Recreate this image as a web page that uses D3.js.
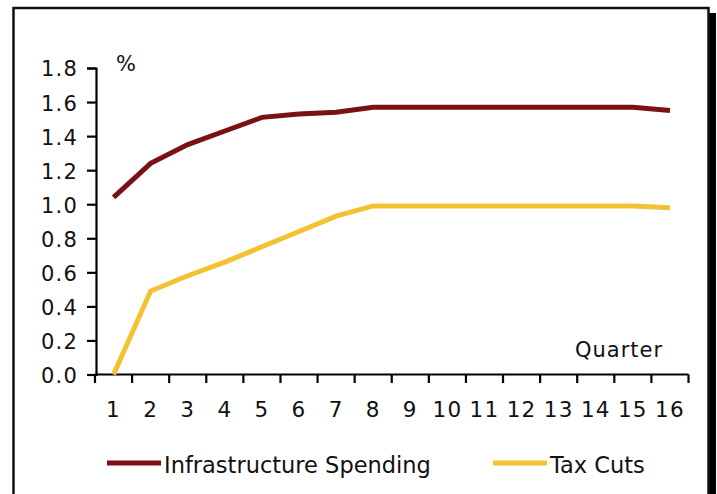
<!DOCTYPE html>
<html>
<head>
<meta charset="utf-8">
<script src="https://cdn.jsdelivr.net/npm/d3@7"></script>
<style>
  html, body { margin: 0; padding: 0; background: #fff; }
  svg { display: block; }
  text { font-family: "DejaVu Sans", Verdana, sans-serif; fill: #111; }
</style>
</head>
<body>
<svg id="chart" width="717" height="494"></svg>
<script>
// ---- data ----
const quarters = ["1","2","3","4","5","6","7","8","9","10","11","12","13","14","15","16"];
const infrastructure = [1.04, 1.24, 1.35, 1.43, 1.51, 1.53, 1.54, 1.57, 1.57, 1.57, 1.57, 1.57, 1.57, 1.57, 1.57, 1.55];
const taxCuts = [0.00, 0.49, 0.58, 0.66, 0.75, 0.84, 0.93, 0.99, 0.99, 0.99, 0.99, 0.99, 0.99, 0.99, 0.99, 0.98];
const yTicks = [0, 0.2, 0.4, 0.6, 0.8, 1.0, 1.2, 1.4, 1.6, 1.8];
const seriesNames = ["Infrastructure Spending", "Tax Cuts"];
const seriesColors = ["#7a1114", "#f3c232"];
const yUnit = "%";
const xTitle = "Quarter";

// ---- drawing ----
const svg = d3.select("#chart");

// frame with shadow
svg.append("rect").attr("x", 709).attr("y", 13).attr("width", 7).attr("height", 490).attr("fill", "#000");
svg.append("rect").attr("x", 13.5).attr("y", 8).attr("width", 695).attr("height", 500)
  .attr("fill", "#fff").attr("stroke", "#111").attr("stroke-width", 2.5);

const x = d3.scaleBand().domain(quarters).range([95, 688.5]).paddingInner(0).paddingOuter(0);
const y = d3.scaleLinear().domain([0, 1.8]).range([374.5, 68]);
const cx = q => x(q) + x.bandwidth() / 2;

// y axis
const yAxis = svg.append("g").attr("transform", "translate(96,0)")
  .call(d3.axisLeft(y).tickValues(yTicks).tickFormat(d3.format(".1f")).tickSize(9).tickPadding(9));
yAxis.select(".domain").attr("stroke", "#000").attr("stroke-width", 2.2);
yAxis.selectAll(".tick line").attr("stroke", "#000").attr("stroke-width", 2.2);
yAxis.selectAll(".tick text").attr("font-size", 21).attr("letter-spacing", "1.2px")
  .attr("font-family", "DejaVu Sans").attr("fill", "#111").attr("dy", "0.38em");

// x axis labels
const xAxis = svg.append("g").attr("transform", "translate(0,374.5)")
  .call(d3.axisBottom(x).tickSize(0).tickPadding(27));
xAxis.select(".domain").remove();
xAxis.selectAll(".tick text").attr("font-size", 21.5).attr("letter-spacing", "1.2px")
  .attr("font-family", "DejaVu Sans").attr("fill", "#111");

// x axis line + boundary ticks
svg.append("line").attr("x1", 95).attr("x2", x.range()[1]).attr("y1", 374.5).attr("y2", 374.5)
  .attr("stroke", "#000").attr("stroke-width", 2.2);
const bounds = quarters.map(q => x(q)).concat([x.range()[1]]);
svg.append("g").selectAll("line").data(bounds).join("line")
  .attr("x1", d => d).attr("x2", d => d).attr("y1", 374.5).attr("y2", 383)
  .attr("stroke", "#000").attr("stroke-width", 2.2);

// unit label and axis title
svg.append("text").attr("x", 116).attr("y", 71).attr("font-size", 21).text(yUnit);
svg.append("text").attr("x", 575).attr("y", 357).attr("font-size", 21).attr("letter-spacing", "1px").text(xTitle);

// lines
const line = d3.line().x((d, i) => cx(quarters[i])).y(d => y(d));
[infrastructure, taxCuts].forEach((s, k) => {
  svg.append("path").datum(s).attr("d", line)
    .attr("fill", "none").attr("stroke", seriesColors[k]).attr("stroke-width", 5)
    .attr("stroke-linejoin", "miter").attr("stroke-linecap", "butt");
});

// legend
const legendX = [107, 493];
seriesNames.forEach((n, k) => {
  const g = svg.append("g").attr("transform", `translate(${legendX[k]},463)`);
  g.append("line").attr("x1", 0).attr("x2", 54).attr("y1", 0).attr("y2", 0)
    .attr("stroke", seriesColors[k]).attr("stroke-width", 5);
  g.append("text").attr("x", 57).attr("y", 10).attr("font-size", 22.5).text(n);
});
</script>
</body>
</html>
